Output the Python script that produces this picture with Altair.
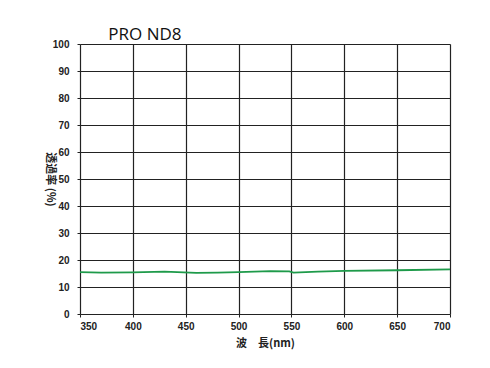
import altair as alt
import pandas as pd

wavelength = [350, 370, 400, 430, 460, 480, 500, 530, 548, 552, 575, 600, 650, 700]
transmittance = [15.5, 15.3, 15.4, 15.7, 15.2, 15.3, 15.5, 15.9, 15.8, 15.3, 15.7, 16.0, 16.2, 16.5]

df = pd.DataFrame({"wl": wavelength, "t": transmittance})

axis_common = dict(
    labelFont="Liberation Sans", labelFontSize=10, labelFontWeight="bold", labelColor="#222",
    gridColor="#222", gridWidth=1.2, domain=False, tickColor="#222", tickSize=3,
    titleFont="Noto Sans CJK JP", titleFontSize=11, titleFontWeight="bold", titleColor="#222",
)

line = alt.Chart(df).mark_line(color="#1e9a4a", strokeWidth=1.8).encode(
    x=alt.X("wl:Q", scale=alt.Scale(domain=[350, 700], nice=False),
            axis=alt.Axis(values=list(range(350, 701, 50)), title="波　長(nm)", titlePadding=6,
                          labelPadding=4, **axis_common)),
    y=alt.Y("t:Q", scale=alt.Scale(domain=[0, 100], nice=False),
            axis=alt.Axis(values=list(range(0, 101, 10)), title="透過率 (%)", titlePadding=8,
                          titleAngle=90, labelPadding=8, **axis_common)),
)

chart = line.properties(
    width=370, height=270,
    title=alt.TitleParams("PRO ND8", anchor="start", font="Open Sans", fontSize=17,
                          fontWeight="normal", color="#111", dx=64, offset=-5),
    autosize=alt.AutoSizeParams(type="none"),
    padding={"left": 80, "top": 44, "right": 40, "bottom": 54},
).configure_view(stroke="#222", strokeWidth=1.5).configure(background="white")

chart.save("out.html", embed_options={"renderer": "svg", "actions": False})
